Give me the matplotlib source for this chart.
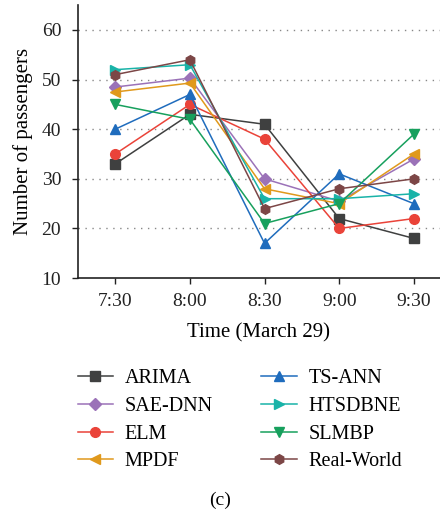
import matplotlib
matplotlib.use("Agg")
import matplotlib.pyplot as plt

plt.rcParams['font.family'] = ['Liberation Serif', 'DejaVu Serif']

times = ['7:30', '8:00', '8:30', '9:00', '9:30']

arima = [33, 43, 41, 22, 18]
sae_dnn = [48.5, 50.3, 30, 25.5, 34]
elm = [35, 45, 38, 20, 22]
mpdf = [47.5, 49.3, 28, 25, 35]
ts_ann = [40, 47, 17, 31, 25]
htsdbne = [52, 53, 26, 26, 27]
slmbp = [45, 42, 21, 25, 39]
real_world = [51, 54, 24, 28, 30]

# name, values, colour, marker  (order = legend order, column by column)
series = [
    ('ARIMA', arima, '#3f4040', 's'),
    ('SAE-DNN', sae_dnn, '#9b72b8', 'D'),
    ('ELM', elm, '#ea4339', 'o'),
    ('MPDF', mpdf, '#e0991c', '<'),
    ('TS-ANN', ts_ann, '#1f6cbd', '^'),
    ('HTSDBNE', htsdbne, '#19b3a8', '>'),
    ('SLMBP', slmbp, '#17a05d', 'v'),
    ('Real-World', real_world, '#7c4646', 'h'),
]

fig = plt.figure(figsize=(4.4, 5.15), dpi=100)
ax = fig.add_axes([0.177, 0.46, 0.823, 0.53])

x = list(range(len(times)))
handles = []
for name, vals, col, mk in series:
    ms = 6 if mk == 'D' else 7
    ln, = ax.plot(x, vals, color=col, marker=mk, markersize=ms, linewidth=1.1,
                  label=name)
    handles.append(ln)

ax.set_xlim(-0.5, 4.35)
ax.set_ylim(10, 65)
ax.set_yticks([10, 20, 30, 40, 50, 60])
ax.set_xticks(x)
ax.set_xticklabels(times)
for yv in [20, 30, 40, 50, 60]:
    ax.axhline(yv, color='#888888', linestyle=(0, (1, 4)), linewidth=1.0, zorder=0)

for s in ['top', 'right']:
    ax.spines[s].set_visible(False)
for s in ['left', 'bottom']:
    ax.spines[s].set_linewidth(1.2)
    ax.spines[s].set_color('#222222')
ax.tick_params(direction='out', length=4, width=1, labelsize=14, colors='#222222')
ax.tick_params(axis='y', pad=8)
ax.tick_params(axis='x', pad=7)
ax.set_ylabel('Number of passengers', fontsize=15, labelpad=6)
ax.set_xlabel('Time (March 29)', fontsize=15, labelpad=9)

fig.legend(handles=handles, loc='upper left', bbox_to_anchor=(0.135, 0.318),
           ncol=2, frameon=False, fontsize=14.5, handlelength=1.75,
           columnspacing=2.4, labelspacing=0.42, handletextpad=0.6)

fig.text(0.5, 0.02, '(c)', ha='center', fontsize=14)

fig.savefig('out.png', dpi=100)
